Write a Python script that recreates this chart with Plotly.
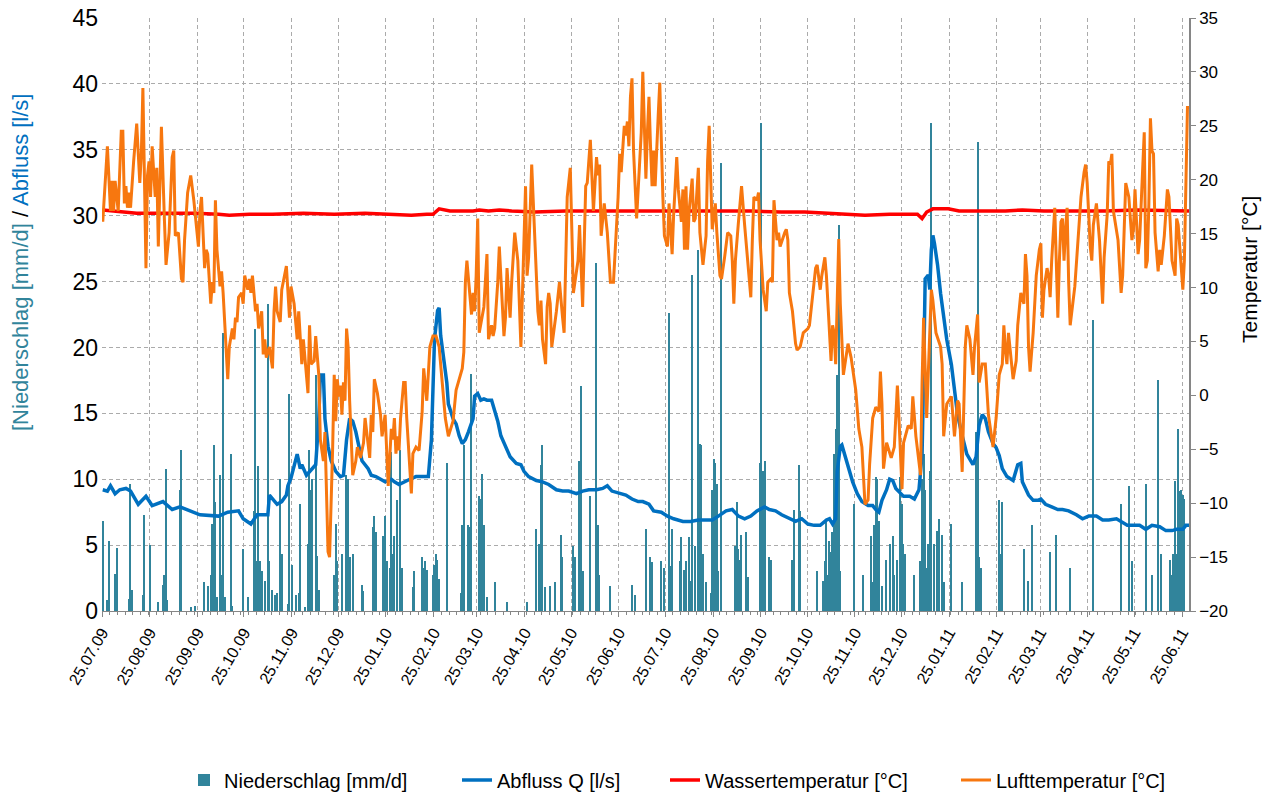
import pandas as pd
import plotly.graph_objects as go

START = "2009-07-25"

# x-axis tick labels (major ticks on the 25th of each month)
tick_labels = ["25.07.09", "25.08.09", "25.09.09", "25.10.09", "25.11.09", "25.12.09",
               "25.01.10", "25.02.10", "25.03.10", "25.04.10", "25.05.10", "25.06.10",
               "25.07.10", "25.08.10", "25.09.10", "25.10.10", "25.11.10", "25.12.10",
               "25.01.11", "25.02.11", "25.03.11", "25.04.11", "25.05.11", "25.06.11"]

# Niederschlag [mm/d]: day index (days since 25.07.09) and daily sums
precip_day = [0, 3, 4, 8, 9, 17, 18, 19, 26, 27, 31, 36, 39, 40, 41, 42, 50, 51, 57, 60,
              66, 68, 70, 71, 72, 73, 74, 76, 77, 78, 79, 83, 84, 91, 94, 98, 99, 100, 101, 102,
              103, 105, 107, 108, 110, 112, 113, 115, 116, 120, 121, 123, 125, 127, 128, 131, 133, 134, 135, 136,
              138, 139, 140, 150, 151, 152, 155, 158, 159, 160, 162, 168, 169, 175, 176, 177, 182, 183, 184, 186,
              187, 188, 189, 191, 193, 194, 201, 202, 207, 208, 209, 210, 214, 215, 216, 217, 218, 223, 232, 233,
              234, 237, 238, 239, 244, 245, 246, 247, 249, 254, 262, 275, 281, 283, 284, 285, 287, 290, 293, 297,
              298, 305, 306, 309, 310, 311, 316, 320, 321, 322, 329, 343, 345, 352, 355, 356, 362, 364, 367, 368,
              369, 374, 375, 377, 378, 380, 381, 382, 384, 386, 387, 388, 389, 391, 394, 395, 396, 397, 398, 399,
              401, 410, 411, 412, 413, 414, 417, 418, 426, 427, 428, 429, 432, 433, 447, 448, 451, 452, 463, 467,
              468, 469, 470, 471, 472, 473, 474, 475, 476, 477, 478, 487, 493, 498, 499, 500, 501, 502, 503, 505,
              508, 510, 512, 513, 515, 517, 518, 519, 520, 526, 530, 531, 532, 533, 534, 535, 536, 537, 539, 541,
              542, 544, 545, 550, 557, 566, 567, 568, 569, 581, 582, 583, 597, 600, 602, 614, 618, 627, 642, 660,
              665, 667, 676, 680, 684, 686, 692, 693, 694, 695, 696, 697, 698, 699, 700, 701]
precip_mm = [6.8, 0.8, 5.3, 2.8, 4.8, 0.9, 9.6, 1.6, 1.2, 7.3, 5.0, 0.7, 2.0, 2.7, 10.8, 0.8, 9.2, 12.2, 0.3, 0.4,
             2.2, 1.9, 2.7, 6.6, 12.6, 8.3, 1.1, 10.3, 2.7, 21.1, 1.1, 11.9, 0.4, 4.7, 1.1, 7.6, 21.4, 3.8, 11.0, 3.8,
             3.0, 2.3, 23.3, 3.8, 1.6, 1.2, 1.4, 10.0, 4.3, 0.5, 16.5, 3.5, 1.2, 1.4, 8.1, 0.3, 5.1, 12.2, 9.2, 10.0,
             17.9, 4.2, 1.6, 2.7, 6.6, 3.8, 4.3, 10.3, 10.0, 4.1, 4.3, 2.0, 1.5, 6.4, 7.2, 6.0, 5.7, 7.2, 3.8, 3.3,
             12.1, 4.3, 5.7, 8.4, 12.2, 3.3, 1.8, 3.0, 4.1, 3.3, 3.8, 3.1, 2.7, 3.5, 4.3, 3.9, 2.4, 11.2, 1.4, 6.5,
             12.6, 6.5, 6.4, 18.0, 8.7, 8.5, 10.4, 6.5, 1.1, 2.2, 0.7, 0.7, 6.2, 5.1, 11.1, 12.6, 1.8, 1.9, 2.2, 5.8,
             4.1, 4.9, 4.1, 11.4, 17.1, 3.0, 8.7, 26.4, 6.5, 2.7, 1.9, 2.0, 1.2, 6.2, 4.1, 3.7, 3.8, 3.3, 22.6, 3.4,
             6.2, 3.8, 5.6, 3.1, 3.8, 5.6, 2.3, 25.5, 4.9, 27.4, 12.7, 12.6, 4.3, 2.2, 1.4, 9.2, 11.5, 11.2, 9.6, 3.0,
             34.0, 4.9, 8.3, 4.7, 3.9, 5.8, 6.0, 2.6, 11.2, 37.0, 10.6, 11.4, 4.1, 3.9, 3.9, 7.7, 11.1, 7.6, 3.0, 2.3,
             3.8, 7.0, 2.7, 5.3, 4.5, 6.0, 11.9, 13.8, 17.9, 29.3, 3.0, 8.1, 2.7, 5.7, 2.2, 6.5, 10.2, 10.0, 6.8, 1.9,
             3.9, 5.1, 5.7, 2.7, 3.9, 10.2, 8.1, 5.1, 4.3, 2.7, 3.8, 10.0, 11.9, 9.2, 3.3, 5.1, 10.6, 37.0, 5.1, 6.1,
             7.0, 5.8, 2.2, 6.6, 2.2, 13.6, 35.6, 4.1, 3.3, 8.4, 4.3, 8.3, 4.7, 2.3, 6.5, 4.5, 5.8, 3.3, 22.1, 8.1,
             9.5, 3.8, 9.6, 2.7, 17.5, 4.3, 3.9, 2.7, 4.3, 9.9, 4.3, 13.8, 9.1, 9.2, 8.8, 8.5]

# Abfluss Q [l/s]
flow_day = [0, 3, 5, 8, 11, 15, 18, 20, 23, 28, 32, 39, 45, 50, 58, 63, 75, 81, 88, 91,
            96, 100, 107, 108, 113, 116, 119, 120, 122, 124, 126, 128, 129, 132, 134, 138, 140, 141, 143, 144,
            146, 148, 151, 154, 156, 158, 160, 162, 164, 166, 168, 172, 174, 177, 180, 183, 187, 189, 192, 195,
            199, 203, 207, 211, 213, 215, 217, 218, 219, 221, 223, 224, 227, 229, 231, 233, 235, 237, 240, 241,
            243, 245, 247, 249, 252, 254, 256, 258, 261, 264, 268, 271, 273, 276, 281, 285, 289, 294, 298, 302,
            307, 311, 315, 320, 324, 327, 330, 335, 339, 343, 347, 350, 354, 357, 362, 366, 370, 376, 381, 386,
            391, 395, 399, 404, 408, 412, 416, 420, 424, 429, 432, 436, 440, 445, 449, 453, 457, 461, 465, 469,
            471, 473, 475, 476, 478, 479, 482, 484, 486, 489, 492, 496, 499, 501, 503, 505, 508, 510, 512, 514,
            517, 519, 523, 526, 529, 531, 532, 533, 535, 536, 537, 538, 539, 541, 543, 545, 547, 550, 552, 554,
            557, 560, 564, 566, 568, 570, 572, 574, 577, 579, 581, 583, 586, 590, 593, 595, 596, 598, 600, 603,
            606, 608, 611, 615, 619, 622, 626, 631, 635, 639, 644, 648, 652, 657, 660, 664, 667, 672, 676, 680,
            685, 689, 693, 696, 700, 702, 704]
flow_ls = [9.2, 9.1, 9.5, 8.9, 9.2, 9.3, 9.1, 8.7, 8.1, 8.7, 8.0, 8.3, 7.7, 7.9, 7.5, 7.3, 7.2, 7.5, 7.6, 7.0,
           6.6, 7.3, 7.3, 8.8, 8.1, 8.3, 8.8, 9.5, 10.1, 11.1, 11.9, 10.8, 11.1, 10.3, 10.6, 11.1, 14.6, 17.9, 17.9, 14.6,
           12.5, 11.4, 10.6, 10.2, 10.3, 13.0, 14.6, 14.4, 13.6, 12.5, 11.4, 10.8, 10.3, 10.2, 10.0, 9.8, 10.0, 9.8, 9.6, 9.8,
           10.0, 10.2, 10.2, 10.2, 13.0, 20.6, 22.8, 23.0, 20.9, 19.2, 17.3, 15.7, 14.6, 14.2, 13.3, 12.7, 13.0, 13.6, 14.6, 16.3,
           16.5, 16.0, 16.1, 16.0, 16.0, 15.2, 14.4, 13.3, 12.5, 11.7, 11.2, 11.1, 10.6, 10.2, 9.9, 9.8, 9.6, 9.2, 9.1, 9.1,
           8.9, 9.1, 9.2, 9.2, 9.3, 9.5, 9.1, 8.9, 8.8, 8.5, 8.3, 8.3, 8.1, 7.6, 7.5, 7.2, 7.0, 6.8, 6.8, 6.9,
           6.9, 6.9, 7.2, 7.6, 7.7, 7.2, 7.0, 7.2, 7.6, 7.9, 7.7, 7.6, 7.3, 7.0, 6.8, 7.0, 6.6, 6.5, 6.5, 6.9,
           7.0, 6.6, 7.0, 10.6, 12.5, 12.6, 11.4, 10.6, 9.8, 8.9, 8.3, 8.0, 8.0, 7.7, 7.5, 8.4, 9.2, 10.0, 9.9, 9.3,
           8.9, 8.7, 8.7, 8.5, 9.2, 11.9, 17.9, 25.2, 25.5, 24.4, 27.4, 28.5, 27.9, 26.3, 24.1, 22.2, 20.6, 18.7, 16.5, 14.9,
           13.3, 11.9, 11.1, 11.7, 14.1, 14.9, 14.6, 13.6, 12.7, 12.4, 11.8, 10.8, 10.2, 9.9, 11.1, 11.2, 9.8, 9.3, 8.8, 8.4,
           8.4, 8.5, 8.1, 7.9, 7.7, 7.7, 7.6, 7.3, 7.0, 7.2, 7.2, 6.9, 6.9, 7.0, 6.8, 6.5, 6.5, 6.5, 6.2, 6.5,
           6.4, 6.1, 6.1, 6.2, 6.2, 6.5, 6.5]

# Wassertemperatur [°C]
water_day = [0, 8, 15, 22, 30, 45, 60, 75, 82, 95, 110, 130, 150, 170, 190, 200, 210, 214, 218, 225,
             240, 244, 250, 257, 265, 280, 300, 320, 340, 360, 380, 400, 420, 440, 455, 470, 480, 494, 510, 528,
             531, 534, 538, 548, 555, 570, 585, 596, 610, 630, 650, 670, 690, 704]
water_t = [17.2, 17.1, 17.0, 16.9, 16.9, 16.9, 16.9, 16.8, 16.7, 16.8, 16.8, 16.9, 16.8, 16.9, 16.8, 16.7, 16.8, 16.8, 17.3, 17.1,
           17.1, 17.2, 17.1, 17.2, 17.1, 17.0, 17.1, 17.1, 17.1, 17.1, 17.1, 17.1, 17.1, 17.0, 17.0, 16.9, 16.8, 16.7, 16.8, 16.8,
           16.4, 17.0, 17.3, 17.3, 17.1, 17.1, 17.1, 17.2, 17.1, 17.1, 17.1, 17.2, 17.1, 17.1]

# Lufttemperatur [°C]
air_day = [0, 3, 5, 6, 7, 8, 10, 12, 13, 14, 15, 16, 17, 18, 20, 22, 24, 25, 26, 28,
           29, 30, 31, 32, 34, 35, 36, 37, 38, 40, 41, 43, 45, 46, 47, 49, 51, 52, 53, 55,
           57, 59, 62, 63, 64, 66, 67, 68, 70, 71, 72, 73, 74, 76, 77, 78, 80, 81, 82, 84,
           85, 86, 87, 88, 90, 91, 92, 94, 95, 96, 97, 99, 100, 101, 103, 104, 105, 106, 108, 109,
           110, 111, 112, 113, 115, 116, 119, 121, 122, 124, 126, 127, 129, 130, 133, 134, 135, 137, 138, 140,
           141, 143, 144, 146, 147, 149, 150, 151, 152, 153, 154, 155, 156, 157, 158, 159, 160, 162, 164, 165,
           167, 169, 170, 173, 174, 175, 176, 178, 180, 181, 183, 185, 186, 187, 188, 189, 190, 191, 192, 193,
           195, 196, 197, 200, 201, 203, 205, 207, 208, 210, 212, 214, 216, 218, 220, 222, 224, 227, 229, 232,
           233, 234, 235, 236, 239, 240, 241, 242, 243, 244, 247, 249, 250, 252, 253, 254, 256, 257, 259, 260,
           261, 262, 264, 265, 267, 269, 271, 272, 274, 275, 276, 278, 280, 282, 283, 284, 285, 287, 288, 289,
           290, 291, 294, 296, 298, 299, 301, 303, 304, 305, 308, 309, 311, 313, 314, 316, 317, 318, 320, 321,
           322, 323, 325, 327, 329, 331, 334, 335, 336, 338, 339, 340, 341, 342, 343, 344, 346, 349, 350, 351,
           352, 353, 354, 355, 356, 357, 358, 360, 361, 363, 364, 366, 367, 369, 370, 372, 373, 375, 376, 377,
           378, 379, 380, 382, 383, 384, 386, 387, 389, 391, 392, 393, 394, 395, 397, 398, 400, 401, 403, 405,
           407, 408, 409, 410, 412, 414, 416, 418, 420, 421, 422, 424, 425, 426, 428, 430, 431, 433, 434, 435,
           436, 437, 438, 439, 442, 443, 444, 445, 447, 449, 450, 452, 454, 457, 458, 460, 462, 463, 465, 466,
           468, 469, 472, 473, 474, 475, 477, 478, 480, 483, 485, 488, 490, 492, 494, 496, 497, 499, 501, 503,
           504, 505, 506, 508, 511, 513, 515, 516, 518, 519, 522, 524, 525, 527, 530, 531, 532, 533, 534, 535,
           537, 538, 540, 543, 544, 545, 547, 550, 552, 554, 555, 557, 559, 560, 562, 564, 565, 567, 568, 570,
           572, 574, 577, 579, 581, 583, 584, 585, 586, 587, 590, 592, 593, 595, 597, 598, 599, 600, 601, 603,
           605, 607, 608, 609, 610, 612, 613, 614, 615, 617, 618, 619, 620, 621, 622, 623, 624, 625, 626, 627,
           630, 632, 634, 636, 637, 638, 640, 641, 642, 644, 646, 648, 649, 651, 652, 653, 654, 655, 658, 660,
           661, 662, 663, 665, 667, 668, 669, 671, 672, 674, 675, 676, 677, 678, 679, 680, 681, 682, 684, 685,
           686, 688, 690, 691, 693, 695, 696, 697, 700, 701, 702, 703, 704]
air_t = [16.1, 23.1, 17.1, 19.9, 17.1, 19.9, 17.1, 24.5, 24.5, 17.8, 19.4, 17.4, 18.8, 17.4, 21.7, 25.2, 19.7, 22.4, 28.5, 11.8,
         20.4, 21.7, 18.4, 23.1, 18.4, 21.1, 13.8, 19.4, 24.9, 16.1, 12.1, 15.1, 22.1, 22.7, 14.8, 15.1, 10.8, 10.5, 14.4, 18.8,
         20.4, 18.1, 13.8, 17.1, 18.4, 11.8, 13.5, 13.1, 8.5, 10.5, 9.5, 18.1, 13.5, 10.1, 11.5, 9.5, 3.8, 1.5, 4.5, 6.2,
         5.2, 7.2, 6.8, 9.1, 9.5, 8.5, 11.1, 9.8, 10.8, 9.5, 11.1, 7.8, 8.5, 6.2, 7.8, 3.8, 5.2, 3.5, 4.5, 3.2,
         2.5, 7.8, 10.1, 7.8, 6.8, 9.8, 12.0, 7.2, 10.1, 8.5, 5.2, 7.8, 2.9, 5.2, 0.2, 6.5, 2.9, 3.2, 5.5, 1.9,
         -4.1, -6.1, -3.4, -14.5, -15.0, -4.8, 1.9, -2.4, 1.5, -0.1, 0.9, -1.8, 1.2, -0.5, 6.2, 4.5, -0.5, -7.4, -6.1, -4.8,
         -5.8, -4.4, -2.1, -5.8, -1.8, -3.4, 1.5, 0.2, -1.8, -3.8, -1.8, -8.4, -5.4, -3.1, -4.1, -2.1, -5.4, -3.8, -5.1, -2.1,
         1.2, 1.2, -2.1, -9.1, -5.4, -4.8, -5.1, -1.5, 2.5, -0.5, 4.5, 5.5, 5.5, 4.5, 1.2, -2.1, -3.8, -2.4, 0.5, 1.9,
         2.5, 4.0, 10.5, 12.5, 7.5, 9.5, 7.8, 11.1, 16.4, 5.8, 8.2, 13.1, 5.2, 6.5, 5.5, 6.2, 10.5, 13.8, 8.5, 5.5,
         7.2, 11.8, 7.2, 10.5, 15.1, 12.5, 4.5, 9.5, 19.4, 11.1, 12.8, 21.4, 14.4, 7.8, 6.5, 8.8, 5.2, 2.9, 8.2, 9.5,
         8.5, 4.5, 7.8, 10.5, 7.2, 5.8, 18.4, 21.1, 15.4, 9.5, 12.5, 15.8, 8.2, 19.4, 19.7, 23.7, 20.4, 17.1, 22.1, 20.4,
         21.4, 14.8, 17.8, 15.1, 10.5, 10.5, 18.4, 22.4, 20.7, 25.0, 24.1, 25.4, 23.1, 27.7, 29.4, 22.7, 16.4, 24.4, 30.0, 24.4,
         20.1, 24.4, 27.7, 23.1, 19.4, 22.7, 19.4, 26.0, 29.0, 18.4, 14.8, 13.8, 17.8, 13.1, 16.8, 22.1, 19.1, 16.1, 19.1, 13.5,
         19.4, 13.5, 17.1, 20.1, 16.1, 16.4, 21.1, 15.1, 12.1, 14.8, 21.7, 25.0, 20.4, 15.4, 17.8, 15.1, 11.1, 10.8, 12.8, 15.1,
         14.8, 12.5, 8.5, 12.5, 16.1, 19.4, 15.8, 12.1, 9.1, 14.4, 18.4, 18.1, 18.8, 14.4, 9.8, 7.8, 10.5, 10.8, 10.5, 18.1,
         15.8, 14.4, 15.1, 13.8, 15.1, 15.4, 14.4, 9.5, 7.8, 4.8, 4.2, 4.5, 5.8, 6.2, 6.5, 9.5, 11.8, 12.1, 9.8, 11.1,
         12.8, 11.1, 3.2, 6.5, 5.8, 2.9, 14.5, 8.5, 1.9, 4.8, 3.5, 0.5, -3.1, -4.8, -10.1, -9.7, -6.4, -2.1, -1.1, -1.5,
         2.2, -0.8, -6.8, -4.4, -5.8, -4.8, 0.9, -2.1, -8.7, -4.4, -2.8, -3.1, -0.1, -3.8, -7.4, 1.2, 7.2, 2.5, -2.1, 1.9,
         9.8, 8.8, 5.8, 4.5, 2.9, -3.8, -0.8, -0.1, -3.8, -0.5, -0.8, -7.1, 4.5, 6.5, 5.2, 1.9, 4.5, 7.5, 1.2, 2.9,
         2.9, -1.8, -4.8, -2.1, 1.9, 2.9, 6.5, 4.2, 2.9, 5.8, 1.5, 3.2, 6.5, 9.5, 8.5, 13.1, 11.1, 4.5, 2.2, 5.8,
         11.1, 13.5, 14.1, 7.2, 9.8, 11.8, 11.1, 9.1, 12.5, 17.4, 11.1, 7.2, 12.5, 16.1, 16.4, 12.5, 15.4, 17.4, 10.5, 6.5,
         10.1, 14.4, 18.4, 20.7, 21.4, 19.7, 13.8, 12.5, 15.8, 17.8, 14.4, 8.5, 12.8, 16.8, 21.7, 21.4, 22.4, 17.1, 14.4, 9.5,
         11.1, 15.4, 19.7, 18.4, 14.4, 15.4, 19.1, 13.1, 14.4, 21.1, 24.4, 11.8, 12.5, 17.8, 25.7, 22.7, 22.4, 15.1, 11.5, 13.5,
         12.1, 14.8, 19.1, 18.4, 12.5, 11.1, 16.4, 15.8, 9.8, 12.5, 21.1, 26.7, 26.7]

# ---------------------------------------------------------------------------
FONT = "Liberation Sans, Arial, sans-serif"
C_BAR, C_FLOW, C_WATER, C_AIR = "#31849B", "#0070C0", "#FF0000", "#F7770F"
GRID = "#ABABAB"
AXIS = "#868686"
DAY_MS = 86400000

start = pd.Timestamp(START)


def to_dates(days):
    return start + pd.to_timedelta(days, unit="D")


tickvals = pd.to_datetime(tick_labels, format="%d.%m.%y")

fig = go.Figure()
fig.add_trace(go.Bar(
    x=to_dates(precip_day), y=precip_mm, name="Niederschlag [mm/d]",
    marker=dict(color=C_BAR, line=dict(width=0)), width=0.8 * DAY_MS,
    xperiod=DAY_MS, xperiodalignment="middle", legend="legend", showlegend=True,
))
fig.add_trace(go.Scatter(
    x=to_dates(flow_day), y=flow_ls, name="Abfluss Q [l/s]", mode="lines",
    line=dict(color=C_FLOW, width=3.5), xperiod=DAY_MS, xperiodalignment="middle",
    legend="legend2", showlegend=True,
))
fig.add_trace(go.Scatter(
    x=to_dates(water_day), y=water_t, name="Wassertemperatur [°C]", mode="lines",
    line=dict(color=C_WATER, width=3.5), yaxis="y2", xperiod=DAY_MS,
    xperiodalignment="middle", legend="legend3", showlegend=True,
))
fig.add_trace(go.Scatter(
    x=to_dates(air_day), y=air_t, name="Lufttemperatur [°C]", mode="lines",
    line=dict(color=C_AIR, width=3), yaxis="y2", xperiod=DAY_MS,
    xperiodalignment="middle", legend="legend4", showlegend=True,
))

# The page body has an 8 px margin; the figure is placed so that the plot
# area lands at the same screen position as in the reference.
OFF = 8
W, H = 1262, 788
L, R, T, B = 94, 81, 10, 185
pw, ph = W - L - R, H - T - B
PX0, PY1 = OFF + L, OFF + T + ph  # screen position of plot left / bottom


def px_x(x):
    return (x - PX0) / pw


def px_y(y):
    return (PY1 - y) / ph


def cx(x):
    return (x - OFF) / W


def cy(y):
    return 1 - (y - OFF) / H


leg_common = dict(orientation="h", yanchor="middle", y=cy(780), xanchor="left",
                  xref="container", yref="container",
                  font=dict(family=FONT, size=20, color="#000000"),
                  bgcolor="rgba(0,0,0,0)", borderwidth=0)

fig.update_layout(
    width=W, height=H,
    margin=dict(l=L, r=R, t=T, b=B, autoexpand=False),
    paper_bgcolor="white", plot_bgcolor="white",
    font=dict(family=FONT, color="#000000"),
    showlegend=True,
    bargap=0,
    xaxis=dict(
        type="date", automargin=False,
        range=[start, start + pd.Timedelta(days=704.5)],
        tickmode="array", tickvals=tickvals, ticktext=tick_labels,
        tickangle=-60, tickfont=dict(family=FONT, size=16, color="#000000"),
        showgrid=True, gridcolor=GRID, griddash="4px,3px", gridwidth=1,
        showline=True, linecolor=AXIS, linewidth=1,
        ticks="outside", ticklen=5, tickcolor=AXIS,
        minor=dict(ticks="outside", ticklen=3, tickcolor=AXIS, dtick=5 * DAY_MS,
                   tick0=START, showgrid=False),
        zeroline=False, ticklabeloverflow="allow",
    ),
    yaxis=dict(
        range=[0, 45], dtick=5, tick0=0, automargin=False,
        tickfont=dict(family=FONT, size=23, color="#000000"),
        showgrid=True, gridcolor=GRID, griddash="4px,3px", gridwidth=1,
        showline=False, ticks="", ticklabelstandoff=3,
        zeroline=False, ticklabeloverflow="allow",
    ),
    yaxis2=dict(
        range=[-20, 35], dtick=5, tick0=-20, overlaying="y", side="right",
        automargin=False,
        tickfont=dict(family=FONT, size=17, color="#000000"),
        showgrid=False, showline=True, linecolor=AXIS, linewidth=1.5,
        ticks="outside", ticklen=5, tickcolor=AXIS, zeroline=False,
        ticklabeloverflow="allow",
    ),
    legend=dict(x=cx(184), **leg_common),
    legend2=dict(x=cx(457), **leg_common),
    legend3=dict(x=cx(665), **leg_common),
    legend4=dict(x=cx(956), **leg_common),
    annotations=[
        dict(xref="paper", yref="paper", x=px_x(21), y=px_y(263), textangle=-90,
             showarrow=False, xanchor="center", yanchor="middle",
             font=dict(family=FONT, size=22),
             text="<span style='color:#31849B'>[Niederschlag [mm/d]</span>"
                  "<span style='color:#000000'> / </span>"
                  "<span style='color:#0070C0'>Abfluss [l/s]</span>"),
        dict(xref="paper", yref="paper", x=px_x(1249), y=px_y(270), textangle=-90,
             showarrow=False, xanchor="center", yanchor="middle",
             font=dict(family=FONT, size=21, color="#000000"),
             text="Temperatur [°C]"),
    ],
)

fig.write_html("out.html")
